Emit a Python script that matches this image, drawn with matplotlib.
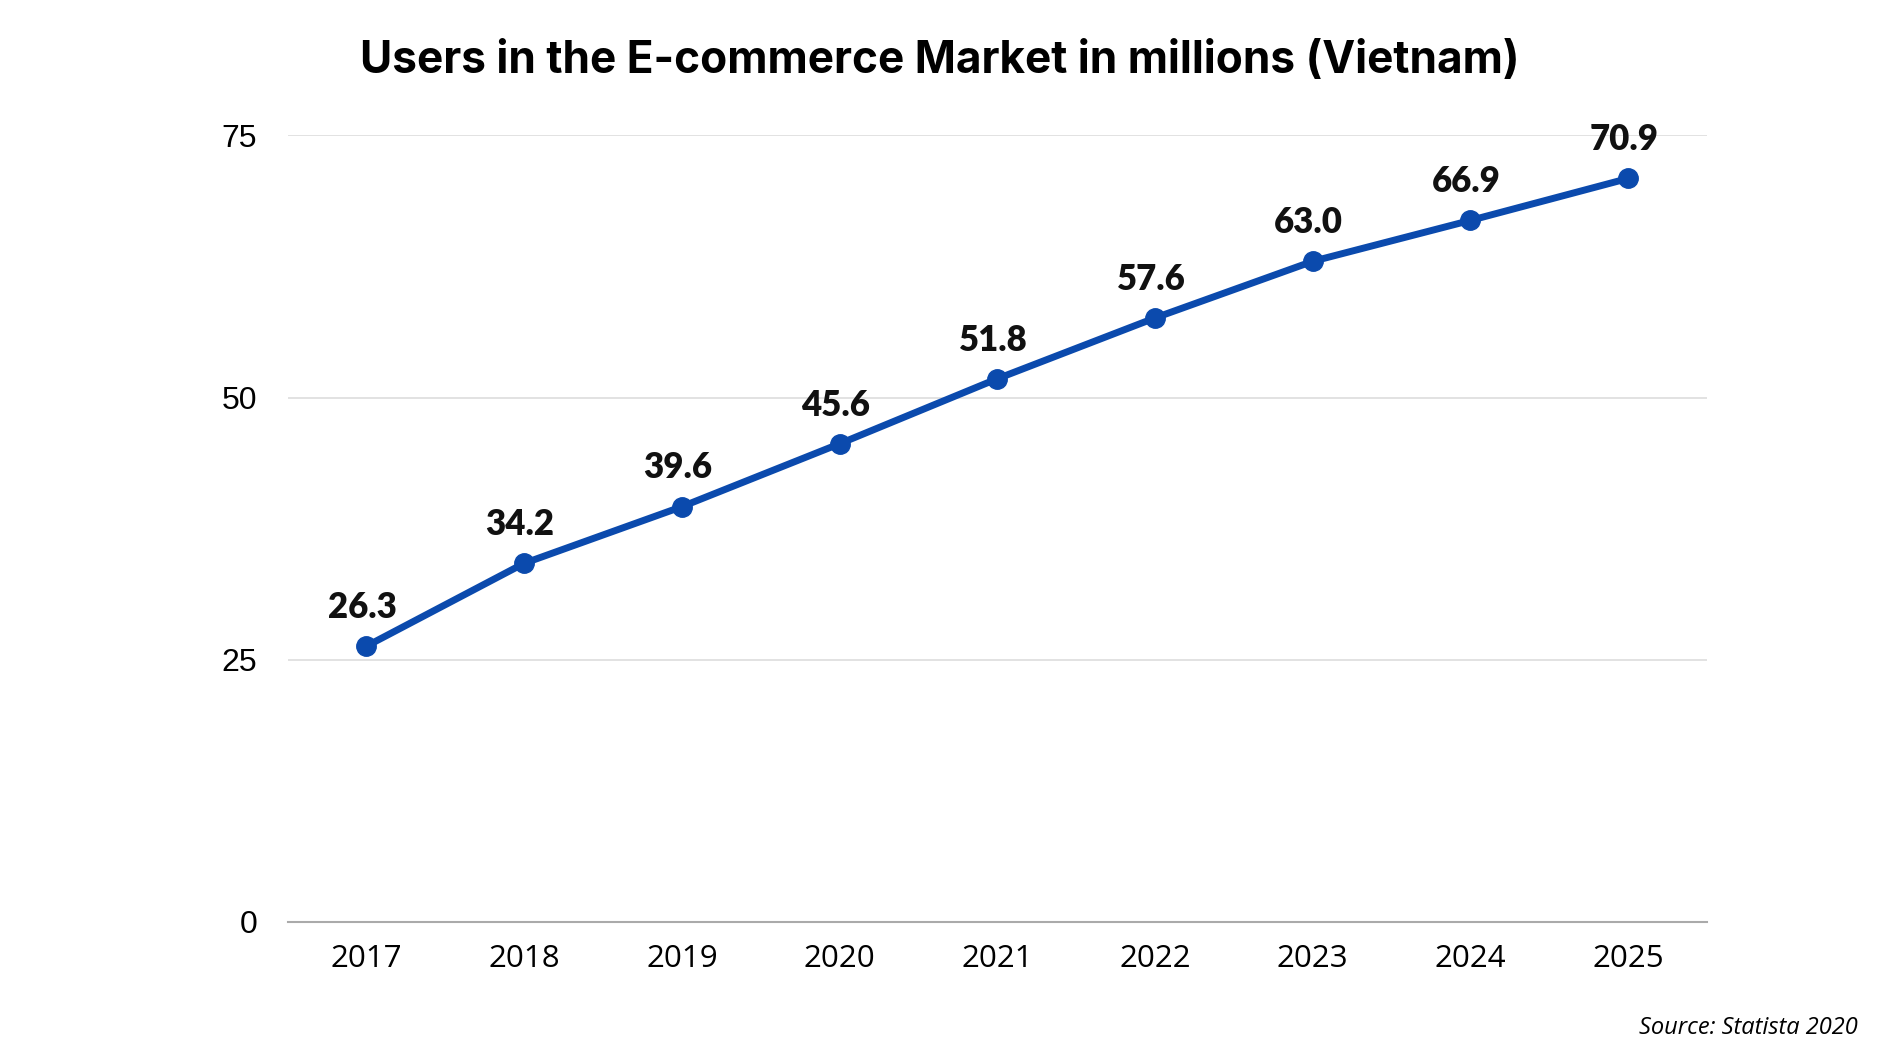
import numpy as np
import matplotlib.pyplot as plt

years = [2017, 2018, 2019, 2020, 2021, 2022, 2023, 2024, 2025]
users = [26.3, 34.2, 39.6, 45.6, 51.8, 57.6, 63.0, 66.9, 70.9]
yticks = [0, 25, 50, 75]

lineColor = "#0b4aad"

fig = plt.figure(figsize=(18.8, 10.5), dpi=100)
ax = fig.add_axes([0.153, 0.122, 0.755, 0.749])

ax.plot(years, users, color=lineColor, linewidth=5, marker="o",
        markersize=14, solid_capstyle="round", zorder=3)

for x, y in zip(years, users):
    ax.annotate("%.1f" % y, (x, y), xytext=(-3, 16), textcoords="offset points",
                ha="center", va="bottom", fontsize=25, fontweight="heavy",
                family="Lato", color="#111111")

ax.set_xlim(2016.5, 2025.5)
ax.set_ylim(0, 75)
ax.set_xticks(years)
ax.set_yticks(yticks)
ax.tick_params(axis="both", length=0, labelsize=22.5)
ax.tick_params(axis="x", pad=16)
ax.tick_params(axis="y", pad=22)
for lbl in ax.get_xticklabels():
    lbl.set_family("Open Sans")
for lbl in ax.get_yticklabels():
    lbl.set_family("Liberation Sans")
    lbl.set_fontsize(23)

ax.grid(axis="y", color="#dddddd", linewidth=1.2)
ax.set_axisbelow(True)
for side in ["top", "right", "left"]:
    ax.spines[side].set_visible(False)
ax.spines["bottom"].set_color("#aaaaaa")
ax.spines["bottom"].set_linewidth(1.5)

fig.text(0.5, 0.942, "Users in the E-commerce Market in millions (Vietnam)",
         ha="center", va="center", fontsize=31.8, fontweight="bold", family="Inter")
fig.text(0.988, 0.01, "Source: Statista 2020", ha="right", va="bottom",
         fontsize=17, style="italic", family="Open Sans")

fig.savefig("out.png", dpi=100, facecolor="white")
